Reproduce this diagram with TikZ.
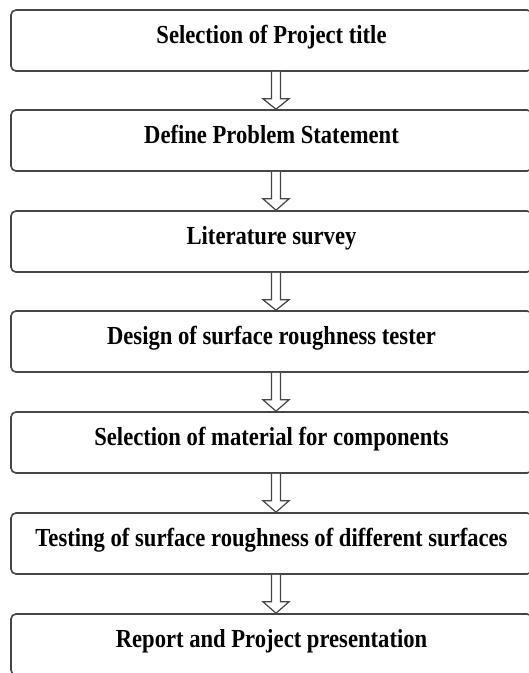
\documentclass[tikz,border=0pt]{standalone}
\usepackage{fontspec}
\setmainfont{Liberation Serif}[FakeStretch=0.87]
\usetikzlibrary{calc}
\definecolor{edge}{HTML}{454545}
\tikzset{
  stepbox/.style={draw=edge, line width=1.6pt, rounded corners=5pt, fill=white,
    minimum width=521pt, minimum height=61pt, inner sep=0pt,
    text height=18pt, text depth=13pt, font=\fontsize{26}{30}\selectfont\bfseries, text=black},
  blockarr/.style={draw=edge, line width=1.2pt, fill=white, line join=miter}
}
\begin{document}
\begin{tikzpicture}[x=1pt,y=-1pt]
\useasboundingbox (0,0) rectangle (529,673);
\clip (0,0) rectangle (529,673);
\node[stepbox] (b1) at (271.5, 40.5) {Selection of Project title};
\node[stepbox] (b2) at (271.5, 140.5) {Define Problem Statement};
\node[stepbox] (b3) at (271.5, 241.5) {Literature survey};
\node[stepbox] (b4) at (271.5, 341.5) {Design of surface roughness tester};
\node[stepbox] (b5) at (271.5, 442.5) {Selection of material for components};
\node[stepbox] (b6) at (271.5, 543.5) {Testing of surface roughness of different surfaces};
\node[stepbox] (b7) at (271.5, 644.5) {Report and Project presentation};
\foreach \u/\v in {b1/b2,b2/b3,b3/b4,b4/b5,b5/b6,b6/b7}{
  \draw[blockarr] (\u.south) -- ($(\u.south)+(0,27)$) -- ($(\u.south)+(-8.5,27)$)
    -- ($(\v.north)+(4.5,0)$) -- ($(\u.south)+(17.5,27)$) -- ($(\u.south)+(9,27)$)
    -- ($(\u.south)+(9,0)$);
}
\end{tikzpicture}
\end{document}
